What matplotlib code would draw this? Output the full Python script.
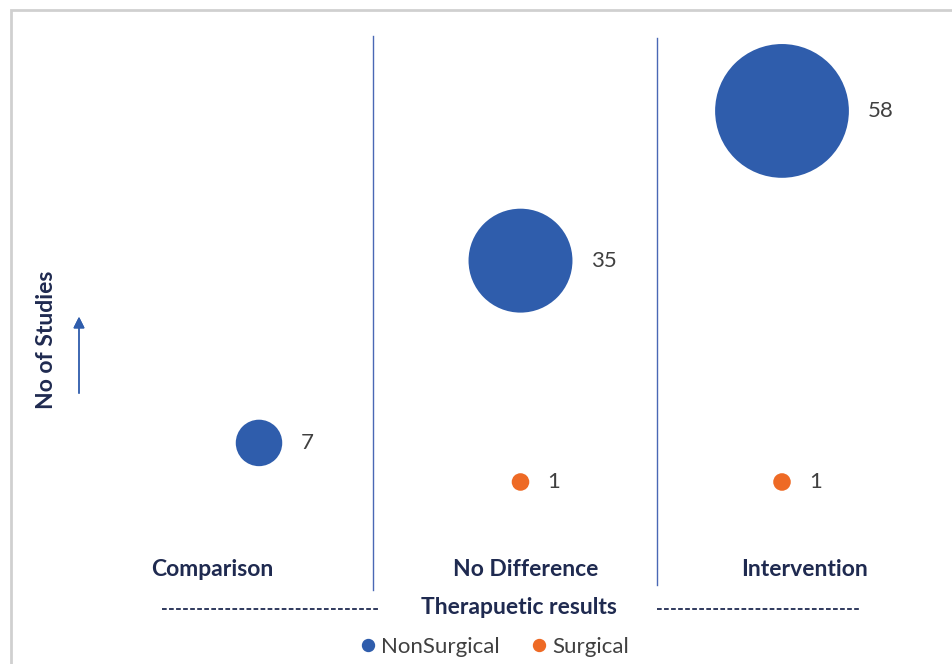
import matplotlib.pyplot as plt
from matplotlib.lines import Line2D
from matplotlib.patches import Rectangle

plt.rcParams['font.family'] = ['Lato', 'DejaVu Sans']

# data
categories = ['Comparison', 'No Difference', 'Intervention']
nonsurgical = [7, 35, 58]
surgical_cats = [1, 2]
surgical = [1, 1]

blue = '#2F5DAC'
orange = '#EE6A25'
navy = '#1F2A50'
grey_txt = '#404040'

W, H = 953, 664
fig = plt.figure(figsize=(W / 100, H / 100), dpi=100)

def fx(px):
    return px / W

def fy(py):
    return 1 - py / H

# axes laid out so the bubbles land where the reference has them
ax = fig.add_axes([fx(128.25), fy(488.5), 784.5 / W, 455.7 / H])
ax.set_xlim(-0.5, 2.5)
ax.set_ylim(0, 70)
ax.axis('off')

k = 160  # marker area per study (pt^2)
ax.scatter(range(len(categories)), nonsurgical, s=[k * v for v in nonsurgical],
           color=blue, edgecolors='none', zorder=3, clip_on=False)
ax.scatter(surgical_cats, surgical, s=[k * v for v in surgical],
           color=orange, edgecolors='none', zorder=3, clip_on=False)

# value labels just right of each bubble
for x, v in zip(range(len(categories)), nonsurgical):
    r = (k * v) ** 0.5 / 2
    ax.annotate(str(v), (x, v), xytext=(r + 13.5, 0), textcoords='offset points',
                ha='left', va='center', fontsize=16, color=grey_txt)
for x, v in zip(surgical_cats, surgical):
    r = (k * v) ** 0.5 / 2
    ax.annotate(str(v), (x, v), xytext=(r + 13, 0), textcoords='offset points',
                ha='left', va='center', fontsize=16, color=grey_txt)

# border (cut off at right/bottom like the screenshot)
fig.patches.append(Rectangle((fx(11), fy(700)), fx(1000), 690 / H, transform=fig.transFigure,
                             fill=False, edgecolor='#D0D0D0', linewidth=2))

# divider lines
fig.add_artist(Line2D([fx(373), fx(373)], [fy(36), fy(590)], color='#4A68B5', lw=1))
fig.add_artist(Line2D([fx(657), fx(657)], [fy(38), fy(585)], color='#4A68B5', lw=1))

# category labels
label_x = [212, 526, 805]
for name, x in zip(categories, label_x):
    fig.text(fx(x), fy(569), name, ha='center', va='center', fontsize=16.5,
             fontweight='bold', color=navy)

fig.text(fx(519), fy(608), 'Therapuetic results', ha='center', va='center',
         fontsize=16.5, fontweight='bold', color=navy)
fig.add_artist(Line2D([fx(162), fx(380)], [fy(609), fy(609)], color=navy, lw=1.3,
                      linestyle=(0, (2.6, 1.3))))
fig.add_artist(Line2D([fx(657), fx(860)], [fy(609), fy(609)], color=navy, lw=1.3,
                      linestyle=(0, (2.6, 1.3))))

# y label with arrow
fig.text(fx(47), fy(340), 'No of Studies', rotation=90, ha='center', va='center',
         fontsize=16.5, fontweight='bold', color=navy)
fig.add_artist(plt.annotate('', xy=(fx(79), fy(314)), xytext=(fx(79), fy(396)),
                            xycoords='figure fraction', textcoords='figure fraction',
                            arrowprops=dict(arrowstyle='-|>', color=blue, lw=1,
                                            mutation_scale=17)))

handles = [Line2D([], [], marker='o', linestyle='none', color=blue, markersize=8.6),
           Line2D([], [], marker='o', linestyle='none', color=orange, markersize=8.6)]
fig.legend(handles, ['NonSurgical', 'Surgical'], loc='center', ncol=2,
           bbox_to_anchor=(fx(494), fy(647)), frameon=False, fontsize=16,
           handlelength=0.8, handletextpad=0.2, columnspacing=1.35,
           labelcolor=grey_txt)

fig.savefig('out.png', dpi=100)
